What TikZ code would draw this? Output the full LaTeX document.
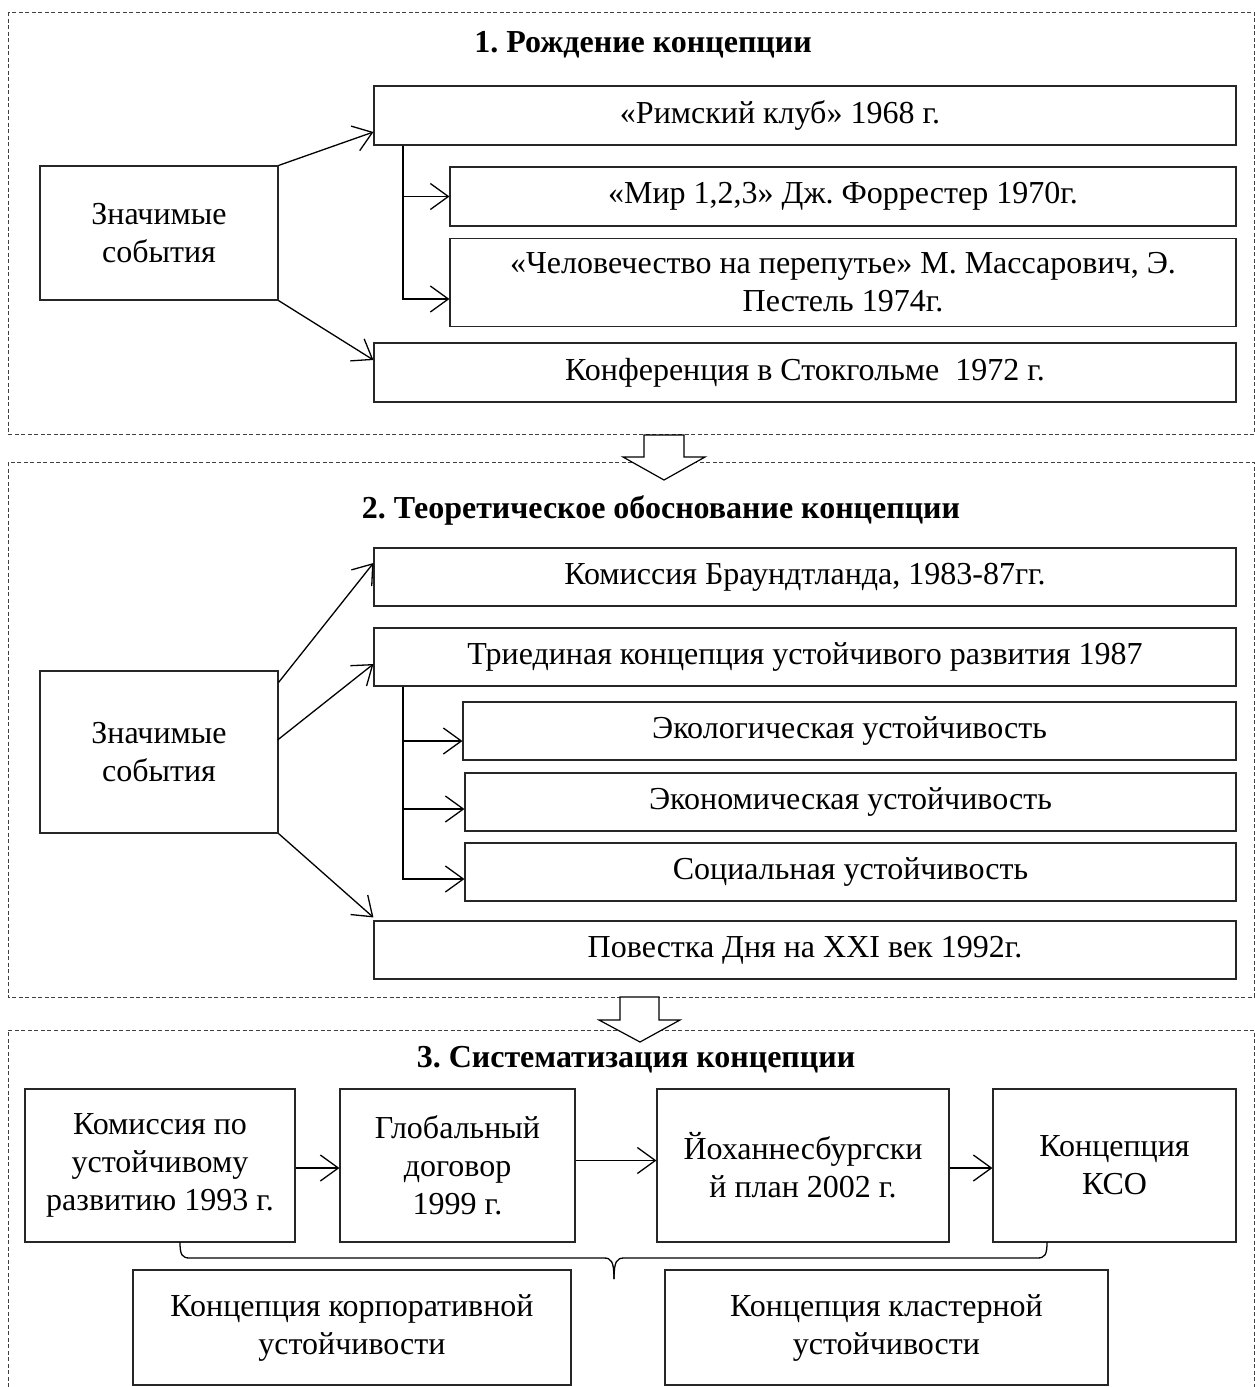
\documentclass[tikz,border=0pt]{standalone}
\usepackage{fontspec}
\setmainfont{Liberation Serif}
\usetikzlibrary{arrows.meta}
\begin{document}
\frenchspacing
\begin{tikzpicture}[x=1pt,y=-1pt,
  every node/.style={font=\fontsize{32}{38}\selectfont, inner sep=0pt, align=center},
  box/.style={draw=black!85, line width=1.1pt, fill=white},
  frame/.style={draw=black!75, line width=0.9pt, dash pattern=on 4pt off 2.5pt},
  arr/.style={line width=1.3pt, -{Straight Barb[length=18pt,width=26pt,line width=1.3pt]}},
  bus/.style={line width=1.3pt},
  ttl/.style={font=\fontsize{32}{38}\selectfont\bfseries},
  hollow/.style={draw=black, line width=1.2pt, fill=white, line join=miter}]
\useasboundingbox (0,0) rectangle (1255,1387);
% frames
\draw[frame] (8,12) rectangle (1254,434);
\draw[frame] (8,462) rectangle (1254,997);
\draw[frame] (8,1387) -- (8,1030) -- (1254,1030) -- (1254,1387);
% hollow arrows
\draw[hollow] (644,435) -- (684,435) -- (684,457) -- (705,457) -- (664,480) -- (623,457) -- (644,457) -- cycle;
\draw[hollow] (620,997) -- (659,997) -- (659,1020) -- (680,1020) -- (640,1042) -- (599,1020) -- (620,1020) -- cycle;
% ---- section 1
\node[ttl] (t1) at (643,45) {1. Рождение концепции};
\node[box, minimum width=238pt, minimum height=134pt] (z1) at (159,233) {Значимые\\события};
\node[box, minimum width=862pt, minimum height=59pt] (r1) at (805,115.5) {«Римский клуб» 1968 г.\hspace*{50pt}};
\node[box, minimum width=786pt, minimum height=59pt] (m1) at (843,196.5) {«Мир 1,2,3» Дж. Форрестер 1970г.};
\node[box, minimum width=786pt, minimum height=88pt] (c1) at (843,282.5) {«Человечество на перепутье» М. Массарович, Э.\\Пестель 1974г.};
\node[box, minimum width=862pt, minimum height=59pt] (k1) at (805,372.5) {Конференция в Стокгольме\ \ 1972 г.};
\draw[arr] (z1.north east) -- ([yshift=-16.5pt]r1.west);
\draw[arr] (z1.south east) -- ([yshift=12.5pt]k1.west);
\coordinate (b1) at (403,300);
\draw[bus] (r1.south -| b1) -- (b1);
\draw[arr] (b1 |- m1.west) -- (m1.west);
\draw[arr] ([yshift=1pt]b1) -- ([yshift=-16.5pt]c1.west);
% ---- section 2
\node[ttl] (t2) at (661,510) {2. Теоретическое обоснование концепции};
\node[box, minimum width=238pt, minimum height=162pt] (z2) at (159,752) {Значимые\\события};
\node[box, minimum width=862pt, minimum height=58pt] (b2) at (805,577) {Комиссия Браундтланда, 1983-87гг.};
\node[box, minimum width=862pt, minimum height=58pt] (tr2) at (805,657) {Триединая концепция устойчивого развития 1987};
\node[box, minimum width=773pt, minimum height=58pt] (e2) at (849.5,731) {Экологическая устойчивость};
\node[box, minimum width=771pt, minimum height=58pt] (n2) at (850.5,802) {Экономическая устойчивость};
\node[box, minimum width=771pt, minimum height=58pt] (s2) at (850.5,872) {Социальная устойчивость};
\node[box, minimum width=862pt, minimum height=58pt] (p2) at (805,950) {Повестка Дня на XXI век 1992г.};
\draw[arr] ([yshift=-12pt]z2.north east) -- ([yshift=14pt]b2.west);
\draw[arr] ([xshift=-1pt,yshift=12pt]z2.east) -- ([yshift=-7pt]tr2.west);
\draw[arr] (z2.south east) -- ([yshift=3pt]p2.north west);
\coordinate (b2bot) at (403,880);
\coordinate (e2p) at ([yshift=-10pt]e2.west);
\coordinate (n2p) at ([yshift=-7pt]n2.west);
\draw[bus] (tr2.south -| b2bot) -- (b2bot);
\draw[arr] (b2bot |- e2p) -- (e2p);
\draw[arr] (b2bot |- n2p) -- (n2p);
\draw[arr] ([yshift=1pt]b2bot) -- ([yshift=-7pt]s2.west);
% ---- section 3
\node[ttl] (t3) at (636,1060) {3. Систематизация концепции};
\node[box, minimum width=270pt, minimum height=153pt] (a3) at (160,1165.5) {Комиссия по\\устойчивому\\развитию 1993 г.};
\node[box, minimum width=235pt, minimum height=153pt] (g3) at (457.5,1165.5) {Глобальный\\договор\\1999 г.};
\node[box, minimum width=292pt, minimum height=153pt] (j3) at (803,1165.5) {Йоханнесбургски\\й план 2002 г.};
\node[box, minimum width=243pt, minimum height=153pt] (k3) at (1114.5,1165.5) {Концепция\\КСО};
\node[box, minimum width=438pt, minimum height=115pt] (e3) at (352,1327.5) {Концепция корпоративной\\устойчивости};
\node[box, minimum width=443pt, minimum height=115pt] (f3) at (886.5,1327.5) {Концепция кластерной\\устойчивости};
\draw[arr] ([yshift=-2.5pt]a3.east) -- ([yshift=-2.5pt]g3.west);
\draw[arr] ([yshift=5pt]g3.east) -- ([yshift=5pt]j3.west);
\draw[arr] ([yshift=-2.5pt]j3.east) -- ([yshift=-2.5pt]k3.west);
% brace
\coordinate (brL) at (180,1242);
\coordinate (brR) at (1047,1242);
\coordinate (brM) at (614,1279);
\draw[line width=1.3pt] (brL) .. controls (180,1255) and (182,1258) .. (190,1258) -- (604,1258)
  .. controls (611,1258) and (614,1261) .. (brM);
\draw[line width=1.3pt] (brR) .. controls (1047,1255) and (1045,1258) .. (1037,1258) -- (624,1258)
  .. controls (617,1258) and (614,1261) .. (brM);
\end{tikzpicture}
\end{document}
